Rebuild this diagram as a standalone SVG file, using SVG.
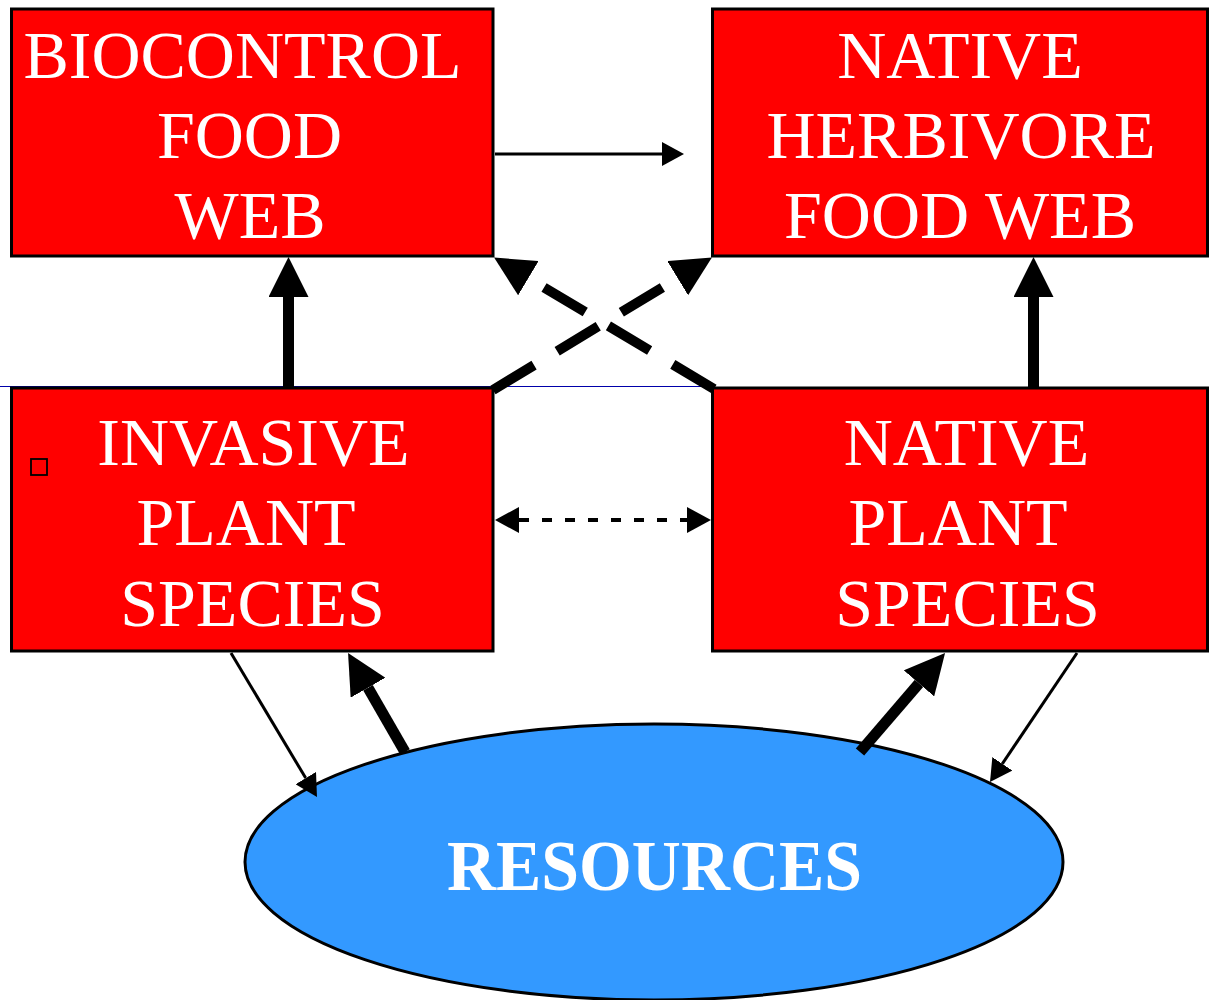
<svg xmlns="http://www.w3.org/2000/svg" width="1209" height="1000" viewBox="0 0 1209 1000">
  <style>
    .box { fill: #ff0000; stroke: #000; stroke-width: 3; }
    .lbl { font-family: "Liberation Serif", "Times New Roman", serif; font-size: 68px; fill: #fff; text-anchor: middle; }
    .res { font-family: "Liberation Serif", "Times New Roman", serif; font-size: 71px; font-weight: bold; fill: #fff; text-anchor: middle; }
    .thin { fill: none; stroke: #000; stroke-width: 3; }
    .thick { fill: none; stroke: #000; stroke-width: 11; }
    .dash { fill: none; stroke: #000; stroke-width: 10; stroke-dasharray: 48 27; }
    .dot { fill: none; stroke: #000; stroke-width: 4; stroke-dasharray: 10 13; }
  </style>
  <defs>
    <marker id="headThin" markerUnits="userSpaceOnUse" orient="auto" markerWidth="22" markerHeight="24" refX="0" refY="12">
      <path d="M0,0 L22,12 L0,24 Z" fill="#000"/>
    </marker>
    <marker id="headThick" markerUnits="userSpaceOnUse" orient="auto" markerWidth="40" markerHeight="40" refX="0" refY="20">
      <path d="M0,0 L40,20 L0,40 Z" fill="#000"/>
    </marker>
    <marker id="headDot" markerUnits="userSpaceOnUse" orient="auto-start-reverse" markerWidth="24" markerHeight="26" refX="0" refY="13">
      <path d="M0,0 L24,13 L0,26 Z" fill="#000"/>
    </marker>
  </defs>

  <rect width="1209" height="1000" fill="#fff"/>

  <!-- guide line behind the lower boxes -->
  <line x1="0" y1="386.5" x2="712" y2="386.5" stroke="#0000aa" stroke-width="1"/>

  <g id="biocontrol">
    <rect class="box" x="11.5" y="9" width="481.5" height="247"/>
    <text class="lbl" x="242.5" y="78">BIOCONTROL</text>
    <text class="lbl" x="249.5" y="158">FOOD</text>
    <text class="lbl" x="250" y="238">WEB</text>
  </g>

  <g id="native-herbivore">
    <rect class="box" x="712.5" y="9" width="495" height="247"/>
    <text class="lbl" x="960" y="78">NATIVE</text>
    <text class="lbl" x="961" y="158">HERBIVORE</text>
    <text class="lbl" x="960" y="238">FOOD WEB</text>
  </g>

  <g id="invasive-plant">
    <rect class="box" x="11.5" y="388" width="481.5" height="263"/>
    <rect x="31" y="459" width="16" height="16" fill="none" stroke="#000" stroke-width="1.8"/>
    <text class="lbl" x="253.5" y="465">INVASIVE</text>
    <text class="lbl" x="246" y="545">PLANT</text>
    <text class="lbl" x="252.5" y="626">SPECIES</text>
  </g>

  <g id="native-plant">
    <rect class="box" x="712.5" y="388" width="495" height="263"/>
    <text class="lbl" x="966.5" y="465">NATIVE</text>
    <text class="lbl" x="958" y="545">PLANT</text>
    <text class="lbl" x="967.5" y="626">SPECIES</text>
  </g>

  <g id="resources">
    <ellipse cx="654" cy="862" rx="409" ry="138" fill="#3399ff" stroke="#000" stroke-width="3"/>
    <text class="res" x="654.5" y="890" textLength="415" lengthAdjust="spacingAndGlyphs">RESOURCES</text>
  </g>

  <g id="connectors">
    <!-- biocontrol -> native herbivore -->
    <path class="thin" d="M495,154 L662,154" marker-end="url(#headThin)"/>
    <!-- plants -> their food webs -->
    <path class="thick" d="M288.5,387 L288.5,297" marker-end="url(#headThick)"/>
    <path class="thick" d="M1033.5,387 L1033.5,297" marker-end="url(#headThick)"/>
    <!-- crossed dashed links -->
    <path class="dash" d="M493,390 L677.7,278.2" marker-end="url(#headThick)"/>
    <path class="dash" d="M714,389 L528.4,278.1" marker-end="url(#headThick)"/>
    <!-- plant competition -->
    <path class="dot" d="M519,520 L687,520" marker-start="url(#headDot)" marker-end="url(#headDot)"/>
    <!-- plants <-> resources -->
    <path class="thin" d="M231,653 L305.7,778.1" marker-end="url(#headThin)"/>
    <path class="thick" d="M405,752 L368,687.7" marker-end="url(#headThick)"/>
    <path class="thick" d="M860,752 L919,683.4" marker-end="url(#headThick)"/>
    <path class="thin" d="M1077,653 L1002.3,763.8" marker-end="url(#headThin)"/>
  </g>
</svg>
